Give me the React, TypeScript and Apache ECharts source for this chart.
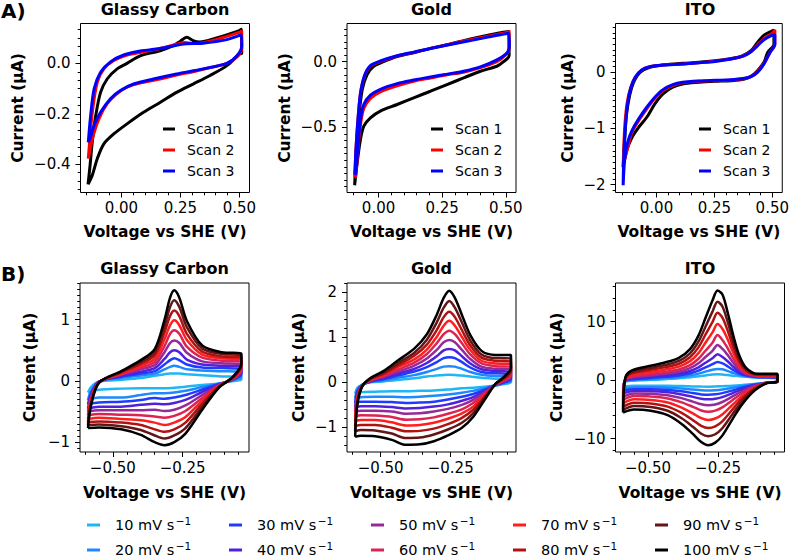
import React, { useEffect, useRef } from 'react';
import * as echarts from 'echarts';

const FONT = '"DejaVu Sans", sans-serif';

// ---------- Row A: three consecutive scans (potential V vs SHE, current µA) ----------
const scanNames = ['Scan 1', 'Scan 2', 'Scan 3'];
const scanColors = ['#000000', '#ff0000', '#0000ff'];

const gcScan1: number[][] = [
  [-0.141, -0.48], [-0.132, -0.4], [-0.123, -0.31], [-0.109, -0.21], [-0.088, -0.115], [-0.06, -0.062],
  [-0.018, -0.022], [0.024, 0.0], [0.08, 0.03], [0.164, 0.05], [0.22, 0.07], [0.25, 0.088], [0.277, 0.103],
  [0.304, 0.09], [0.332, 0.085], [0.4, 0.1], [0.5, 0.13], [0.508, 0.135], [0.51, 0.04], [0.5, 0.037],
  [0.447, -0.009], [0.374, -0.049], [0.304, -0.082], [0.234, -0.115], [0.164, -0.155], [0.094, -0.194],
  [0.024, -0.24], [-0.032, -0.28], [-0.074, -0.319], [-0.102, -0.378], [-0.123, -0.444], [-0.141, -0.48],
];
const gcScan2: number[][] = [
  [-0.14, -0.378], [-0.135, -0.32], [-0.123, -0.194], [-0.102, -0.075], [-0.074, -0.022], [-0.032, 0.011],
  [0.024, 0.033], [0.094, 0.046], [0.164, 0.059], [0.234, 0.076], [0.27, 0.083], [0.3, 0.079], [0.332, 0.08],
  [0.4, 0.094], [0.505, 0.125], [0.51, 0.13], [0.51, 0.06], [0.49, 0.025], [0.447, 0.0], [0.374, -0.017],
  [0.304, -0.033], [0.234, -0.046], [0.164, -0.062], [0.094, -0.075], [0.024, -0.094], [-0.018, -0.12],
  [-0.06, -0.16], [-0.095, -0.22], [-0.123, -0.3], [-0.14, -0.378],
];
const gcScan3: number[][] = [
  [-0.14, -0.313], [-0.13, -0.207], [-0.115, -0.1], [-0.088, -0.035], [-0.046, 0.006], [0.01, 0.033],
  [0.08, 0.049], [0.164, 0.059], [0.25, 0.075], [0.277, 0.078], [0.346, 0.08], [0.447, 0.094], [0.508, 0.113],
  [0.51, 0.07], [0.49, 0.03], [0.447, 0.0], [0.346, -0.022], [0.234, -0.042], [0.136, -0.062], [0.052, -0.082],
  [-0.004, -0.108], [-0.046, -0.14], [-0.088, -0.194], [-0.115, -0.245], [-0.13, -0.29], [-0.14, -0.313],
];

const auScan1: number[][] = [
  [-0.094, -0.94], [-0.087, -0.674], [-0.077, -0.417], [-0.064, -0.212], [-0.045, -0.098], [-0.019, -0.035],
  [0.02, 0.0], [0.073, 0.038], [0.138, 0.068], [0.204, 0.101], [0.282, 0.134], [0.361, 0.172], [0.439, 0.205],
  [0.511, 0.23], [0.513, 0.045], [0.491, 0.0], [0.465, -0.035], [0.4, -0.073], [0.334, -0.124], [0.269, -0.174],
  [0.204, -0.225], [0.138, -0.275], [0.073, -0.326], [0.007, -0.376], [-0.032, -0.427], [-0.058, -0.49],
  [-0.071, -0.59], [-0.084, -0.77], [-0.094, -0.94],
];
const auScan2: number[][] = [
  [-0.093, -0.88], [-0.089, -0.674], [-0.081, -0.44], [-0.071, -0.24], [-0.055, -0.11], [-0.032, -0.035],
  [0.007, 0.0], [0.073, 0.043], [0.138, 0.07], [0.204, 0.101], [0.282, 0.134], [0.361, 0.167], [0.439, 0.197],
  [0.511, 0.225], [0.513, 0.238], [0.513, 0.1], [0.504, 0.06], [0.465, 0.0], [0.4, -0.045], [0.334, -0.08],
  [0.269, -0.1], [0.204, -0.124], [0.138, -0.149], [0.073, -0.184], [0.007, -0.23], [-0.032, -0.28],
  [-0.058, -0.356], [-0.071, -0.48], [-0.081, -0.674], [-0.09, -0.876], [-0.093, -0.88],
];
const auScan3: number[][] = [
  [-0.093, -0.86], [-0.089, -0.674], [-0.081, -0.44], [-0.071, -0.24], [-0.055, -0.105], [-0.032, -0.03],
  [0.007, 0.005], [0.073, 0.045], [0.138, 0.072], [0.204, 0.1], [0.282, 0.13], [0.361, 0.16], [0.439, 0.19],
  [0.511, 0.215], [0.514, 0.12], [0.506, 0.07], [0.465, 0.013], [0.4, -0.04], [0.334, -0.073], [0.269, -0.095],
  [0.204, -0.116], [0.138, -0.14], [0.073, -0.167], [0.007, -0.21], [-0.032, -0.255], [-0.058, -0.326],
  [-0.071, -0.44], [-0.081, -0.65], [-0.09, -0.85], [-0.093, -0.86],
];

const itoScan1: number[][] = [
  [-0.144, -1.69], [-0.138, -1.24], [-0.13, -0.77], [-0.116, -0.41], [-0.099, -0.178], [-0.071, 0.0],
  [-0.029, 0.09], [0.028, 0.13], [0.113, 0.16], [0.183, 0.178], [0.253, 0.207], [0.324, 0.249], [0.366, 0.284],
  [0.408, 0.385], [0.436, 0.533], [0.464, 0.663], [0.5, 0.74], [0.507, 0.75], [0.507, 0.5], [0.48, 0.355],
  [0.464, 0.178], [0.436, 0.03], [0.408, -0.07], [0.38, -0.118], [0.324, -0.148], [0.253, -0.16], [0.183, -0.178],
  [0.113, -0.207], [0.07, -0.266], [0.028, -0.385], [-0.007, -0.562], [-0.042, -0.8], [-0.077, -0.98],
  [-0.106, -1.16], [-0.127, -1.37], [-0.141, -1.6], [-0.144, -1.69],
];
const itoScan2: number[][] = [
  [-0.144, -1.69], [-0.141, -1.3], [-0.136, -0.9], [-0.127, -0.55], [-0.112, -0.28], [-0.092, -0.09],
  [-0.064, 0.04], [-0.029, 0.1], [0.028, 0.13], [0.113, 0.15], [0.183, 0.172], [0.253, 0.2], [0.324, 0.24],
  [0.366, 0.28], [0.408, 0.37], [0.436, 0.49], [0.464, 0.6], [0.5, 0.7], [0.511, 0.76], [0.511, 0.5],
  [0.49, 0.355], [0.464, 0.16], [0.436, 0.01], [0.408, -0.075], [0.38, -0.11], [0.324, -0.135], [0.253, -0.148],
  [0.183, -0.16], [0.113, -0.185], [0.07, -0.236], [0.028, -0.326], [-0.007, -0.462], [-0.042, -0.651],
  [-0.077, -0.86], [-0.106, -1.07], [-0.124, -1.34], [-0.14, -1.6], [-0.144, -1.69],
];
const itoScan3: number[][] = [
  [-0.144, -2.01], [-0.141, -1.48], [-0.134, -0.95], [-0.124, -0.53], [-0.11, -0.266], [-0.092, -0.089],
  [-0.064, 0.041], [-0.029, 0.1], [0.028, 0.13], [0.113, 0.148], [0.183, 0.172], [0.253, 0.195], [0.324, 0.237],
  [0.352, 0.266], [0.38, 0.296], [0.408, 0.367], [0.436, 0.473], [0.464, 0.58], [0.5, 0.663], [0.511, 0.67],
  [0.511, 0.5], [0.49, 0.355], [0.464, 0.148], [0.436, 0.0], [0.408, -0.077], [0.38, -0.107], [0.324, -0.13],
  [0.253, -0.142], [0.183, -0.154], [0.113, -0.178], [0.07, -0.219], [0.028, -0.308], [-0.007, -0.444],
  [-0.042, -0.622], [-0.077, -0.829], [-0.106, -1.04], [-0.124, -1.24], [-0.137, -1.54], [-0.144, -2.01],
];

// ---------- Row B: scan-rate study ----------
const rateNames = [
  '10 mV s⁻¹', '20 mV s⁻¹', '30 mV s⁻¹', '40 mV s⁻¹', '50 mV s⁻¹',
  '60 mV s⁻¹', '70 mV s⁻¹', '80 mV s⁻¹', '90 mV s⁻¹', '100 mV s⁻¹',
];
const rateColors = [
  '#1fb6f5', '#1e88ff', '#1e3cff', '#5020dc', '#952a98',
  '#dc2452', '#ff1e1e', '#b01212', '#641515', '#000000',
];

// Glassy carbon: sweep potentials (V) and currents (µA) per scan rate
const gcSweep = [-0.589, -0.578, -0.55, -0.47, -0.4, -0.35, -0.315, -0.295, -0.28, -0.262, -0.235, -0.18, -0.11, -0.04,
  -0.04, -0.07, -0.12, -0.18, -0.24, -0.28, -0.315, -0.35, -0.4, -0.47, -0.55, -0.589];
const gc10 = [-0.19, -0.1, -0.01, 0.02, 0.05, 0.085, 0.11, 0.12, 0.12, 0.12, 0.11, 0.095, 0.075, 0.06, 0.02, 0.0, -0.04, -0.065, -0.095, -0.11, -0.12, -0.12, -0.12, -0.125, -0.145, -0.19];
const gc20 = [-0.31, -0.16, -0.01, 0.05, 0.09, 0.12, 0.19, 0.23, 0.25, 0.23, 0.19, 0.17, 0.16, 0.14, 0.07, 0.01, -0.045, -0.1, -0.16, -0.19, -0.2, -0.2, -0.23, -0.27, -0.27, -0.31];
const gc30 = [-0.38, -0.2, -0.01, 0.07, 0.12, 0.16, 0.27, 0.34, 0.37, 0.34, 0.27, 0.22, 0.21, 0.19, 0.11, 0.02, -0.05, -0.14, -0.23, -0.27, -0.29, -0.28, -0.31, -0.34, -0.35, -0.38];
const gc40 = [-0.45, -0.23, -0.015, 0.08, 0.15, 0.21, 0.36, 0.47, 0.5, 0.47, 0.35, 0.27, 0.25, 0.23, 0.13, 0.025, -0.06, -0.18, -0.31, -0.36, -0.38, -0.37, -0.39, -0.42, -0.42, -0.45];
const gc50 = [-0.5, -0.26, -0.02, 0.1, 0.19, 0.26, 0.47, 0.62, 0.66, 0.62, 0.46, 0.32, 0.29, 0.27, 0.16, 0.03, -0.065, -0.23, -0.4, -0.47, -0.49, -0.47, -0.48, -0.48, -0.48, -0.5];
const gc60 = [-0.56, -0.29, -0.02, 0.11, 0.22, 0.31, 0.57, 0.77, 0.83, 0.77, 0.56, 0.38, 0.33, 0.31, 0.19, 0.04, -0.075, -0.28, -0.49, -0.57, -0.6, -0.58, -0.56, -0.55, -0.54, -0.56];
const gc70 = [-0.62, -0.32, -0.02, 0.12, 0.25, 0.36, 0.68, 0.91, 0.99, 0.91, 0.67, 0.43, 0.37, 0.35, 0.21, 0.045, -0.08, -0.32, -0.59, -0.68, -0.72, -0.68, -0.64, -0.62, -0.6, -0.62];
const gc80 = [-0.67, -0.35, -0.025, 0.14, 0.28, 0.42, 0.79, 1.06, 1.15, 1.06, 0.77, 0.48, 0.4, 0.38, 0.24, 0.055, -0.09, -0.37, -0.68, -0.79, -0.83, -0.79, -0.72, -0.68, -0.66, -0.67];
const gc90 = [-0.72, -0.38, -0.03, 0.15, 0.31, 0.47, 0.89, 1.21, 1.32, 1.21, 0.88, 0.53, 0.44, 0.42, 0.26, 0.06, -0.1, -0.42, -0.77, -0.89, -0.94, -0.89, -0.8, -0.74, -0.71, -0.72];
const gc100 = [-0.77, -0.4, -0.03, 0.16, 0.34, 0.52, 1.0, 1.36, 1.48, 1.36, 0.98, 0.58, 0.47, 0.45, 0.28, 0.07, -0.11, -0.47, -0.86, -1.0, -1.05, -1.0, -0.88, -0.79, -0.76, -0.77];

// Gold
const auSweep = [-0.591, -0.583, -0.565, -0.535, -0.49, -0.44, -0.38, -0.335, -0.3, -0.275, -0.255, -0.235, -0.21, -0.18, -0.14, -0.09, -0.035,
  -0.035, -0.06, -0.09, -0.13, -0.17, -0.21, -0.26, -0.31, -0.36, -0.41, -0.46, -0.52, -0.57, -0.591];
const au10 = [-0.25, -0.12, -0.05, 0.0, 0.02, 0.05, 0.09, 0.13, 0.15, 0.165, 0.17, 0.165, 0.15, 0.13, 0.1, 0.08, 0.06, 0.0, -0.04, -0.07, -0.1, -0.12, -0.13, -0.16, -0.18, -0.19, -0.2, -0.2, -0.21, -0.22, -0.25];
const au20 = [-0.36, -0.16, -0.05, 0.01, 0.045, 0.1, 0.16, 0.23, 0.3, 0.35, 0.36, 0.35, 0.3, 0.23, 0.17, 0.14, 0.125, 0.035, -0.02, -0.065, -0.13, -0.19, -0.23, -0.27, -0.3, -0.32, -0.33, -0.32, -0.32, -0.33, -0.36];
const au30 = [-0.46, -0.2, -0.06, 0.02, 0.07, 0.15, 0.24, 0.34, 0.45, 0.54, 0.56, 0.54, 0.45, 0.33, 0.23, 0.2, 0.185, 0.07, -0.005, -0.06, -0.17, -0.26, -0.32, -0.38, -0.43, -0.45, -0.46, -0.44, -0.43, -0.43, -0.46];
const au40 = [-0.56, -0.24, -0.06, 0.03, 0.09, 0.19, 0.3, 0.43, 0.58, 0.71, 0.74, 0.71, 0.58, 0.42, 0.29, 0.25, 0.24, 0.1, 0.01, -0.055, -0.2, -0.33, -0.41, -0.49, -0.54, -0.57, -0.58, -0.55, -0.53, -0.53, -0.56];
const au50 = [-0.65, -0.28, -0.06, 0.04, 0.12, 0.23, 0.37, 0.53, 0.72, 0.89, 0.94, 0.89, 0.72, 0.52, 0.35, 0.3, 0.29, 0.13, 0.03, -0.055, -0.23, -0.39, -0.5, -0.59, -0.65, -0.69, -0.7, -0.65, -0.63, -0.63, -0.65];
const au60 = [-0.76, -0.32, -0.07, 0.05, 0.14, 0.28, 0.44, 0.63, 0.87, 1.07, 1.15, 1.07, 0.87, 0.62, 0.42, 0.36, 0.35, 0.17, 0.045, -0.05, -0.26, -0.46, -0.6, -0.7, -0.78, -0.82, -0.83, -0.77, -0.74, -0.73, -0.76];
const au70 = [-0.86, -0.36, -0.07, 0.06, 0.17, 0.33, 0.51, 0.73, 1.01, 1.26, 1.37, 1.26, 1.01, 0.72, 0.48, 0.42, 0.41, 0.2, 0.06, -0.045, -0.29, -0.54, -0.69, -0.81, -0.9, -0.95, -0.96, -0.89, -0.84, -0.84, -0.86];
const au80 = [-0.97, -0.41, -0.07, 0.075, 0.19, 0.37, 0.59, 0.84, 1.16, 1.45, 1.57, 1.45, 1.16, 0.82, 0.55, 0.48, 0.46, 0.24, 0.08, -0.04, -0.33, -0.61, -0.79, -0.93, -1.03, -1.08, -1.09, -1.01, -0.95, -0.95, -0.97];
const au90 = [-1.09, -0.45, -0.08, 0.09, 0.22, 0.42, 0.66, 0.95, 1.33, 1.66, 1.81, 1.66, 1.33, 0.93, 0.62, 0.54, 0.535, 0.28, 0.1, -0.035, -0.36, -0.69, -0.9, -1.05, -1.16, -1.23, -1.24, -1.14, -1.07, -1.06, -1.09];
const au100 = [-1.21, -0.5, -0.08, 0.1, 0.25, 0.48, 0.75, 1.07, 1.5, 1.88, 2.04, 1.88, 1.5, 1.05, 0.7, 0.61, 0.61, 0.32, 0.12, -0.03, -0.4, -0.77, -1.01, -1.18, -1.31, -1.38, -1.39, -1.28, -1.2, -1.19, -1.21];

// ITO
const itoSweep = [-0.589, -0.586, -0.578, -0.555, -0.5, -0.44, -0.39, -0.35, -0.32, -0.295, -0.27, -0.252, -0.234, -0.215, -0.195, -0.175, -0.15, -0.11, -0.038,
  -0.038, -0.075, -0.12, -0.165, -0.2, -0.235, -0.26, -0.285, -0.31, -0.34, -0.38, -0.43, -0.49, -0.55, -0.589];
const ito10 = [-1.13, -0.5, -0.2, -0.1, 0.0, 0.15, 0.3, 0.5, 0.65, 0.8, 0.95, 1.0, 0.95, 0.85, 0.75, 0.65, 0.55, 0.42, 0.24, -0.2, -0.45, -0.65, -0.85, -0.98, -1.05, -1.1, -1.13, -1.12, -1.08, -1.02, -0.98, -0.96, -0.98, -1.13];
const ito20 = [-1.4, -0.55, -0.14, 0.02, 0.15, 0.34, 0.53, 0.81, 1.1, 1.44, 1.77, 1.9, 1.84, 1.54, 1.19, 0.89, 0.65, 0.46, 0.3, -0.2, -0.45, -0.73, -1.07, -1.36, -1.6, -1.72, -1.77, -1.74, -1.61, -1.44, -1.31, -1.24, -1.25, -1.4];
const ito30 = [-1.8, -0.6, -0.06, 0.15, 0.33, 0.55, 0.79, 1.17, 1.62, 2.17, 2.72, 3.1, 2.86, 2.33, 1.7, 1.16, 0.77, 0.52, 0.36, -0.21, -0.46, -0.81, -1.32, -1.8, -2.23, -2.44, -2.5, -2.45, -2.22, -1.93, -1.68, -1.56, -1.55, -1.8];
const ito40 = [-2.26, -0.7, 0.02, 0.3, 0.52, 0.78, 1.07, 1.56, 2.18, 2.96, 3.73, 4.4, 3.95, 3.17, 2.24, 1.45, 0.89, 0.57, 0.43, -0.22, -0.46, -0.9, -1.59, -2.26, -2.91, -3.21, -3.3, -3.21, -2.87, -2.45, -2.08, -1.9, -1.88, -2.26];
const ito50 = [-2.83, -0.8, 0.12, 0.48, 0.75, 1.06, 1.42, 2.04, 2.87, 3.94, 5.0, 6.0, 5.32, 4.23, 2.91, 1.82, 1.05, 0.64, 0.52, -0.23, -0.47, -1.02, -1.92, -2.84, -3.75, -4.17, -4.3, -4.15, -3.68, -3.09, -2.59, -2.33, -2.28, -2.83];
const ito60 = [-3.4, -0.9, 0.23, 0.67, 1.01, 1.38, 1.81, 2.56, 3.64, 5.01, 6.39, 7.7, 6.82, 5.39, 3.65, 2.22, 1.22, 0.71, 0.61, -0.24, -0.47, -1.15, -2.29, -3.48, -4.68, -5.23, -5.42, -5.2, -4.57, -3.81, -3.14, -2.81, -2.73, -3.4];
const ito70 = [-3.97, -1.05, 0.37, 0.93, 1.34, 1.78, 2.3, 3.24, 4.61, 6.39, 8.16, 9.6, 8.73, 6.86, 4.6, 2.73, 1.43, 0.81, 0.73, -0.26, -0.48, -1.31, -2.76, -4.3, -5.87, -6.57, -6.82, -6.52, -5.71, -4.71, -3.84, -3.41, -3.3, -3.97];
const ito80 = [-4.55, -1.2, 0.51, 1.18, 1.67, 2.17, 2.79, 3.91, 5.59, 7.76, 9.93, 11.5, 10.64, 8.34, 5.54, 3.24, 1.65, 0.9, 0.85, -0.27, -0.48, -1.47, -3.23, -5.11, -7.05, -7.92, -8.2, -7.85, -6.85, -5.62, -4.54, -4.01, -3.87, -4.55];
const ito90 = [-5.1, -1.35, 0.65, 1.43, 2.0, 2.57, 3.28, 4.58, 6.56, 9.13, 11.7, 13.4, 12.55, 9.82, 6.49, 3.75, 1.87, 1.0, 0.97, -0.29, -0.49, -1.63, -3.7, -5.93, -8.23, -9.26, -9.6, -9.18, -7.98, -6.53, -5.25, -4.61, -4.44, -5.1];
const ito100 = [-5.55, -1.5, 0.8, 1.7, 2.35, 3.0, 3.8, 5.3, 7.6, 10.6, 13.6, 15.3, 14.6, 11.4, 7.5, 4.3, 2.1, 1.1, 1.1, -0.3, -0.5, -1.8, -4.2, -6.8, -9.5, -10.7, -11.15, -10.6, -9.2, -7.5, -6.0, -5.25, -5.05, -5.55];

// ---------- Tick labels ----------
const topXTicks = [0, 0.25, 0.5];
const bottomXTicks = [-0.5, -0.25];
const gcTopYTicks = [-0.4, -0.2, 0];
const auTopYTicks = [-0.5, 0];
const itoTopYTicks = [-2, -1, 0];
const gcBottomYTicks = [-1, 0, 1];
const auBottomYTicks = [-1, 0, 1, 2];
const itoBottomYTicks = [-10, 0, 10];

const panelTitles = ['Glassy Carbon', 'Gold', 'ITO', 'Glassy Carbon', 'Gold', 'ITO'];

// Panel frames and axis settings
const panels = [
  { left: 80.5, top: 23.5, x: [-0.173, 0.543], y: [-0.512, 0.158], xt: topXTicks, yt: gcTopYTicks, xm: 0.05, ym: 0.2 / 6, xd: 2, yd: 1, yGap: 55, xGap: 31 },
  { left: 347, top: 23.5, x: [-0.124, 0.54], y: [-0.995, 0.29], xt: topXTicks, yt: auTopYTicks, xm: 0.05, ym: 0.05, xd: 2, yd: 1, yGap: 54, xGap: 31 },
  { left: 615.5, top: 23.5, x: [-0.177, 0.543], y: [-2.14, 0.87], xt: topXTicks, yt: itoTopYTicks, xm: 0.05, ym: 0.1, xd: 2, yd: 0, yGap: 40, xGap: 31 },
  { left: 80, top: 283, x: [-0.6175, -0.0125], y: [-1.16, 1.6], xt: bottomXTicks, yt: gcBottomYTicks, xm: 0.05, ym: 0.1, xd: 2, yd: 0, yGap: 42, xGap: 33 },
  { left: 347, top: 283, x: [-0.62, -0.017], y: [-1.55, 2.21], xt: bottomXTicks, yt: auBottomYTicks, xm: 0.05, ym: 0.2, xd: 2, yd: 0, yGap: 40, xGap: 33 },
  { left: 615.5, top: 283, x: [-0.616, -0.013], y: [-12.3, 16.6], xt: bottomXTicks, yt: itoBottomYTicks, xm: 0.05, ym: 2, xd: 2, yd: 0, yGap: 51, xGap: 33 },
];
const SIZE = 169;

const fmt = (d: number) => (v: number) => (v < -1e-9 ? '\u2212' : '') + Math.abs(v).toFixed(d);

const stepTicks = (min: number, max: number, step: number) => {
  const out: number[] = [];
  for (let k = Math.ceil(min / step - 1e-9); k * step <= max + 1e-9; k++) out.push(+(k * step).toFixed(6));
  return out;
};

// "10 mV s⁻¹" -> rich text with a raised "−1"
const rateLabel = (name: string) => `{n|${name.replace('⁻¹', '')}}{s|\u22121}`;

function buildOption() {
  const grid: any[] = [];
  const xAxis: any[] = [];
  const yAxis: any[] = [];
  const tickStyle = { color: '#000', width: 1 };
  const hiddenLine = { show: false, onZero: false };

  panels.forEach((p, i) => {
    grid.push({ left: p.left, top: p.top, width: SIZE, height: SIZE, show: true, borderColor: '#000', borderWidth: 1, backgroundColor: '#fff' });
    xAxis.push({
      gridIndex: i, type: 'value', position: 'bottom', min: p.x[0], max: p.x[1],
      axisLine: hiddenLine, splitLine: { show: false },
      axisTick: { show: true, length: 5, customValues: p.xt, lineStyle: tickStyle },
      axisLabel: { customValues: p.xt, formatter: fmt(p.xd), color: '#000', fontSize: 15, fontFamily: FONT, margin: 8 },
      name: 'Voltage vs SHE (V)', nameLocation: 'middle', nameGap: p.xGap,
      nameTextStyle: { fontFamily: FONT, fontWeight: 'bold', fontSize: 15.5, color: '#000' },
    });
    xAxis.push({
      gridIndex: i, type: 'value', position: 'bottom', min: p.x[0], max: p.x[1],
      axisLine: hiddenLine, splitLine: { show: false }, axisLabel: { show: false },
      axisTick: { show: true, length: 2.8, customValues: stepTicks(p.x[0], p.x[1], p.xm), lineStyle: tickStyle },
    });
    yAxis.push({
      gridIndex: i, type: 'value', position: 'left', min: p.y[0], max: p.y[1],
      axisLine: hiddenLine, splitLine: { show: false },
      axisTick: { show: true, length: 5, customValues: p.yt, lineStyle: tickStyle },
      axisLabel: { customValues: p.yt, formatter: fmt(p.yd), color: '#000', fontSize: 15, fontFamily: FONT, margin: 10 },
      name: 'Current (μA)', nameLocation: 'middle', nameRotate: 90, nameGap: p.yGap,
      nameTextStyle: { fontFamily: FONT, fontWeight: 'bold', fontSize: 15.5, color: '#000' },
    });
    yAxis.push({
      gridIndex: i, type: 'value', position: 'left', min: p.y[0], max: p.y[1],
      axisLine: hiddenLine, splitLine: { show: false }, axisLabel: { show: false },
      axisTick: { show: true, length: 2.8, customValues: stepTicks(p.y[0], p.y[1], p.ym), lineStyle: tickStyle },
    });
  });

  const series: any[] = [];
  const common = { type: 'line', symbol: 'none', smooth: 0.3, silent: true, emphasis: { disabled: true } };

  const topCurves = [
    [gcScan1, gcScan2, gcScan3],
    [auScan1, auScan2, auScan3],
    [itoScan1, itoScan2, itoScan3],
  ];
  topCurves.forEach((curves, p) => {
    curves.forEach((pts, k) => {
      series.push({
        ...common, name: scanNames[k], xAxisIndex: 2 * p, yAxisIndex: 2 * p,
        color: scanColors[k], lineStyle: { width: 3, color: scanColors[k] }, data: pts,
      });
    });
  });

  const bottomSets = [
    { v: gcSweep, cur: [gc10, gc20, gc30, gc40, gc50, gc60, gc70, gc80, gc90, gc100] },
    { v: auSweep, cur: [au10, au20, au30, au40, au50, au60, au70, au80, au90, au100] },
    { v: itoSweep, cur: [ito10, ito20, ito30, ito40, ito50, ito60, ito70, ito80, ito90, ito100] },
  ];
  bottomSets.forEach((set, q) => {
    const ax = 2 * (q + 3);
    set.cur.forEach((c, k) => {
      series.push({
        ...common, name: rateNames[k], xAxisIndex: ax, yAxisIndex: ax,
        color: rateColors[k], lineStyle: { width: 2.5, color: rateColors[k] },
        data: set.v.map((v, j) => [v, c[j]]),
      });
    });
  });

  const topLegendLefts = [163, 431, 699];
  const legend: any[] = topLegendLefts.map((l) => ({
    orient: 'vertical', left: l, top: 118.5, width: 120, height: 80, padding: 0, itemGap: 0,
    itemWidth: 12, itemHeight: 3, icon: 'rect', selectedMode: false,
    data: scanNames,
    textStyle: { fontFamily: FONT, fontSize: 14, color: '#000', lineHeight: 21, padding: [0, 0, 0, 7] },
  }));
  const bottomLegendLefts = [87, 229, 371, 513, 655];
  bottomLegendLefts.forEach((l, c) => {
    legend.push({
      orient: 'vertical', left: l, top: 512.5, width: 140, height: 80, padding: 0, itemGap: 0,
      itemWidth: 13, itemHeight: 3, icon: 'rect', selectedMode: false,
      data: [rateNames[2 * c], rateNames[2 * c + 1]],
      formatter: rateLabel,
      textStyle: {
        fontFamily: FONT, fontSize: 14.5, color: '#000', lineHeight: 25, padding: [0, 0, 0, 10],
        rich: {
          n: { fontFamily: FONT, fontSize: 14.5, color: '#000', lineHeight: 25 },
          s: { fontFamily: FONT, fontSize: 10.5, color: '#000', lineHeight: 12, padding: [0, 0, 9, 1.5] },
        },
      },
    });
  });

  const graphic: any[] = [
    { type: 'text', x: 1, y: 1, style: { text: 'A)', font: `bold 20px ${FONT}`, fill: '#000', align: 'left', verticalAlign: 'top' } },
    { type: 'text', x: 1, y: 264, style: { text: 'B)', font: `bold 20px ${FONT}`, fill: '#000', align: 'left', verticalAlign: 'top' } },
  ];
  panels.forEach((p, i) => {
    graphic.push({
      type: 'text', x: p.left + SIZE / 2, y: i < 3 ? 1 : 260,
      style: { text: panelTitles[i], font: `bold 16px ${FONT}`, fill: '#000', align: 'center', verticalAlign: 'top' },
    });
  });

  return { animation: false, backgroundColor: '#fff', grid, xAxis, yAxis, series, legend, graphic };
}

export default function App() {
  const ref = useRef<HTMLDivElement>(null);
  useEffect(() => {
    if (!ref.current) return;
    const chart = echarts.init(ref.current, undefined, { renderer: 'svg' });
    chart.setOption(buildOption() as any);
    return () => chart.dispose();
  }, []);
  return <div ref={ref} style={{ position: 'absolute', left: 0, top: 0, width: 792, height: 557 }} />;
}
